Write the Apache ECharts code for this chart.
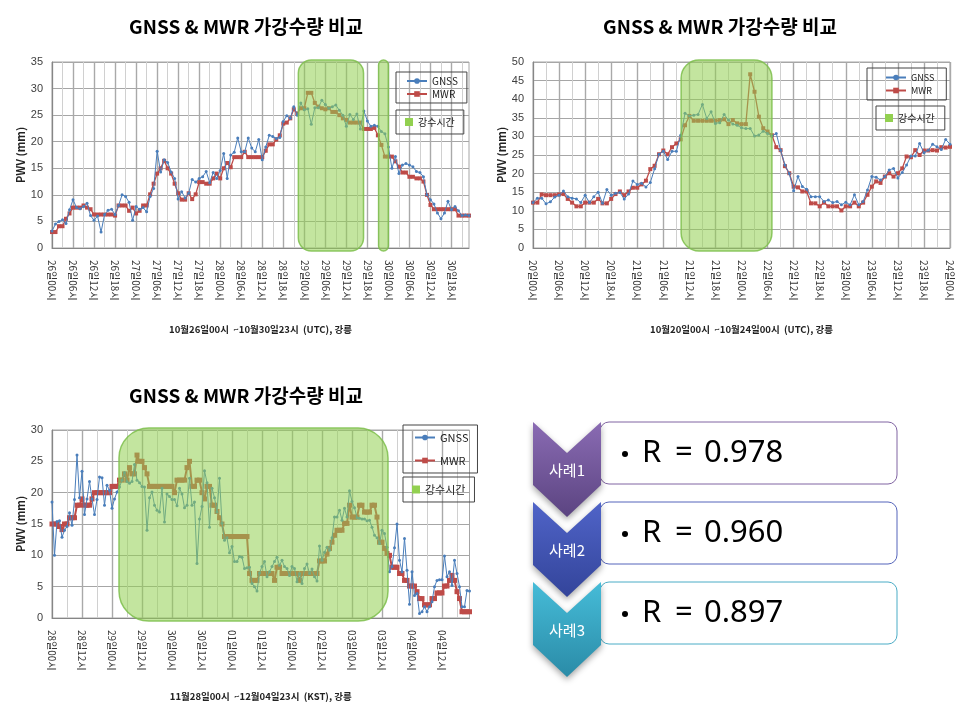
<!DOCTYPE html>
<html><head><meta charset="utf-8">
<script src="https://cdn.jsdelivr.net/npm/echarts@6/dist/echarts.min.js"></script>
<style>html,body{margin:0;padding:0;background:#fff}#c{width:960px;height:720px}</style>
</head><body><div id="c"></div>
<script>
// ---------- text ----------
const chartTitle = 'GNSS & MWR 가강수량 비교';
const yName = 'PWV (mm)';
const nameGNSS = 'GNSS', nameMWR = 'MWR', nameRain = '강수시간';
const xName1 = '10월26일00시  ~10월30일23시  (UTC), 강릉';
const xName2 = '10월20일00시  ~10월24일00시  (UTC), 강릉';
const xName3 = '11월28일00시  ~12월04일23시  (KST), 강릉';

// ---------- categories (hourly) ----------
const days1 = ['26', '27', '28', '29', '30'];
const days2 = ['20', '21', '22', '23', '24'];   // last day: 00시 only
const days3 = ['28', '29', '30', '01', '02', '03', '04'];
function makeCats(days, lastDayHours) {
  const out = [];
  days.forEach((d, i) => {
    const n = (i === days.length - 1 && lastDayHours != null) ? lastDayHours : 24;
    for (let h = 0; h < n; h++) out.push(d + '일' + String(h).padStart(2, '0') + '시');
  });
  return out;
}
const cats1 = makeCats(days1);
const cats2 = makeCats(days2, 1);
const cats3 = makeCats(days3);

// ---------- case 1 : 10/26 00 ~ 10/30 23 ----------
const gnss1 = [
  3.2, 4.5, 5.0, 5.3, 4.6, 7.2, 9.1, 7.6, 7.4, 7.8,
  8.4, 6.1, 5.2, 6.0, 3.0, 6.3, 7.1, 7.3, 6.3, 8.0,
  10.0, 9.7, 8.6, 5.2, 7.8, 7.3, 7.6, 6.8, 9.7, 11.2,
  18.2, 14.3, 16.6, 16.1, 14.3, 13.1, 9.2, 10.6, 9.4, 10.3,
  12.9, 12.4, 13.1, 13.4, 14.4, 12.3, 14.2, 13.1, 14.6, 17.8,
  13.1, 17.5, 18.0, 20.7, 18.1, 18.1, 20.7, 18.8, 18.1, 20.4,
  16.6, 19.0, 21.2, 21.0, 20.6, 20.8, 23.8, 24.9, 24.4, 26.6,
  25.0, 27.3, 26.0, 26.2, 23.3, 26.4, 26.4, 27.8, 27.0, 26.3,
  26.6, 26.9, 25.9, 25.0, 22.9, 25.1, 24.2, 25.2, 22.4, 25.8,
  23.9, 22.9, 23.1, 22.9, 21.9, 21.5, 19.0, 15.0, 17.2, 14.0,
  15.6, 15.9, 15.6, 15.3, 14.4, 14.2, 13.4, 10.0, 9.1, 8.3,
  6.6, 5.5, 6.6, 8.8, 7.2, 7.8, 7.0, 6.1, 6.2, 6.1
];
const mwr1 = [
  3.0, 3.0, 4.1, 4.1, 5.5, 6.5, 7.6, 7.6, 7.6, 8.0,
  7.6, 7.3, 6.3, 6.3, 6.3, 6.3, 6.3, 6.3, 6.1, 8.0,
  8.0, 8.0, 7.0, 7.6, 6.5, 7.0, 8.0, 8.0, 10.1, 12.1,
  14.0, 15.0, 16.4, 15.0, 14.0, 12.1, 10.3, 9.1, 9.1, 10.3,
  9.2, 10.1, 12.4, 12.4, 12.1, 12.1, 13.1, 14.0, 13.1, 15.0,
  16.0, 15.2, 17.1, 17.1, 17.1, 18.1, 17.1, 17.1, 17.1, 17.1,
  17.1, 18.3, 19.5, 19.5, 20.4, 21.2, 23.4, 23.6, 24.4, 26.1,
  25.3, 26.3, 26.3, 29.2, 29.2, 27.3, 26.6, 26.3, 26.1, 26.3,
  25.6, 25.6, 25.0, 24.4, 24.1, 23.6, 23.6, 23.6, 23.6, 22.4,
  22.4, 22.4, 22.6, 21.2, 19.4, 17.2, 17.2, 17.2, 16.3, 15.3,
  14.2, 14.2, 13.4, 13.4, 13.1, 13.1, 12.5, 10.0, 8.1, 7.3,
  7.3, 7.3, 7.3, 7.3, 7.3, 7.3, 6.1, 6.1, 6.1, 6.1
];
const rain1 = [[70.3, 88.9], [93.2, 96.0]];   // rain periods, in hours from start

// ---------- case 2 : 10/20 00 ~ 10/24 00 ----------
const gnss2 = [
  12.2, 13.4, 13.4, 11.9, 12.4, 13.7, 14.2, 15.3, 13.8, 13.4,
  13.2, 12.2, 14.2, 12.2, 13.8, 15.0, 12.0, 15.7, 14.2, 14.7,
  14.9, 13.2, 14.5, 18.0, 17.1, 17.4, 16.4, 17.6, 21.3, 25.2,
  26.0, 23.8, 26.0, 26.0, 30.3, 36.2, 35.5, 35.7, 35.9, 38.6,
  34.8, 36.6, 33.5, 33.7, 35.9, 34.4, 33.3, 33.0, 32.3, 32.1,
  32.1, 30.1, 30.4, 31.4, 30.8, 30.1, 30.8, 26.3, 22.3, 20.0,
  15.4, 19.2, 16.5, 15.8, 13.8, 13.8, 13.8, 12.5, 12.9, 12.2,
  12.5, 11.6, 12.3, 11.6, 14.3, 11.6, 12.5, 15.6, 19.2, 19.0,
  18.3, 19.2, 21.0, 21.4, 18.8, 20.3, 22.3, 24.7, 24.7, 28.1,
  25.6, 26.3, 27.9, 27.2, 26.5, 29.2, 27.9
];
const mwr2 = [
  12.2, 12.2, 14.4, 14.2, 14.2, 14.2, 14.4, 14.5, 13.2, 12.2,
  11.2, 11.2, 12.2, 12.2, 12.2, 13.2, 12.0, 12.0, 13.2, 14.5,
  15.2, 14.2, 15.2, 16.2, 16.2, 17.1, 18.1, 21.2, 22.1, 25.2,
  26.2, 25.2, 27.1, 28.1, 29.2, 33.0, 35.5, 34.2, 34.2, 34.2,
  34.2, 34.2, 34.2, 34.4, 34.6, 33.3, 34.4, 33.5, 33.3, 33.3,
  46.7, 42.0, 35.3, 32.2, 31.3, 30.3, 27.1, 26.3, 22.0, 20.1,
  16.5, 16.3, 15.2, 15.2, 12.0, 12.0, 11.2, 12.2, 11.2, 11.2,
  11.2, 10.1, 11.2, 11.2, 12.2, 11.2, 12.2, 14.3, 16.5, 17.9,
  17.5, 19.2, 20.1, 19.2, 20.1, 21.4, 24.6, 24.4, 26.3, 25.0,
  26.2, 26.2, 26.3, 26.2, 27.1, 27.0, 27.2
];
const rain2 = [[34.1, 55.0]];

// ---------- case 3 : 11/28 00 ~ 12/04 23 ----------
const gnss3 = [
  18.5, 10.0, 15.4, 15.5, 12.9, 14.0, 14.6, 16.8, 14.8, 18.9,
  26.0, 19.2, 23.4, 16.5, 19.0, 21.8, 19.0, 16.5, 18.9, 22.5,
  22.4, 18.0, 21.2, 20.4, 17.5, 19.0, 20.1, 20.9, 22.0, 23.2,
  21.8, 21.5, 21.8, 24.5, 22.0, 21.6, 21.0, 20.9, 14.0, 19.2,
  20.1, 18.0, 17.2, 16.9, 20.7, 15.3, 19.8, 19.4, 18.9, 18.9,
  17.9, 20.7, 19.8, 17.6, 18.0, 22.3, 18.0, 18.5, 8.7, 15.8,
  17.8, 23.5, 21.6, 14.5, 20.7, 19.2, 16.9, 22.3, 15.1, 12.4,
  12.8, 10.4, 11.4, 9.0, 9.0, 9.8, 9.7, 7.9, 8.0, 8.1,
  5.5, 5.0, 4.3, 7.2, 8.2, 9.0, 6.6, 7.4, 8.2, 9.0,
  9.7, 8.4, 9.2, 8.2, 7.9, 6.8, 8.2, 7.9, 5.8, 7.1,
  5.5, 7.9, 8.6, 7.1, 7.8, 6.6, 5.9, 11.5, 9.2, 10.5,
  11.3, 10.8, 12.8, 16.1, 16.1, 17.2, 15.6, 17.5, 16.1, 20.3,
  18.6, 17.6, 16.0, 15.9, 15.8, 15.8, 15.5, 15.6, 14.5, 13.2,
  12.8, 11.9, 14.0, 13.5, 11.3, 7.4, 8.2, 11.2, 15.0, 9.2,
  7.4, 12.7, 7.6, 2.2, 7.4, 3.6, 3.9, 0.7, 1.0, 1.8,
  1.0, 1.8, 2.6, 5.0, 6.0, 6.1, 6.1, 9.9, 6.6, 7.4,
  5.2, 9.2, 7.1, 5.0, 1.8, 1.8, 4.4, 4.3
];
const mwr3 = [
  15, 15, 15, 14.6, 14.1, 15, 15, 16, 16, 16,
  18, 18, 19, 18, 18, 18, 19, 20, 20, 20,
  20, 20, 20, 20, 21, 21, 21, 22, 22, 23,
  22, 24, 23, 23, 26, 25, 25, 24, 23, 21,
  21, 21, 21, 21, 21, 21, 21, 21, 21, 20,
  22, 22, 22, 22, 24, 25, 21, 21, 22, 22,
  20, 19, 21, 21, 18, 18, 17, 16, 15, 13,
  13, 13, 13, 13, 13, 13, 13, 13, 13, 7.1,
  6, 6, 6, 7.1, 7.1, 7.1, 7.1, 7.1, 7.1, 6,
  8.1, 8.1, 7.1, 7.1, 7.1, 7.1, 7.1, 7.1, 7.1, 6,
  7.1, 7.1, 7.1, 7.1, 7.1, 7.1, 7.1, 9.1, 9.1, 9.1,
  10.2, 11.1, 12.1, 13.2, 14, 14, 14, 15.1, 15.1, 18,
  16.1, 16.1, 16.1, 18, 18, 16.9, 16.9, 16.9, 18, 18,
  16.1, 12.1, 12.1, 11.1, 10.3, 10, 8.1, 8.1, 8.1, 7.1,
  7.1, 6, 6, 5.1, 5.1, 5.1, 4.2, 3.1, 3.1, 2.1,
  2.1, 2.1, 3.1, 3.1, 4, 4, 4, 5.1, 5.1, 6,
  6.8, 6, 4.2, 3.1, 1, 1, 1, 1
];
const rain3 = [[26.8, 134.4]];

// ---------- correlation panel ----------
const caseLabels = ['사례1', '사례2', '사례3'];
const rValues = [0.978, 0.960, 0.897];

// ================= build =================
const FONT = "'Noto Sans CJK KR', 'Noto Sans', sans-serif";
const cfg = [
  { cats: cats1, gnss: gnss1, mwr: mwr1, rain: rain1, xName: xName1, yMax: 35,
    grid: { left: 52, top: 62, width: 417, height: 186 }, lbl: 5, thin: 2, thick: 5, radius: 13,
    title: { left: 246, top: 17 }, nameGap: 77, mwrW: 1.3, mwrS: 4 },
  { cats: cats2, gnss: gnss2, mwr: mwr2, rain: rain2, xName: xName2, yMax: 50,
    grid: { left: 533, top: 62, width: 417, height: 186 }, lbl: 5, thin: 2, thick: 5, radius: 18,
    title: { left: 720, top: 17 }, nameGap: 77, mwrW: 1.3, mwrS: 4 },
  { cats: cats3, gnss: gnss3, mwr: mwr3, rain: rain3, xName: xName3, yMax: 30,
    grid: { left: 52, top: 430, width: 417.5, height: 188 }, lbl: 11, thin: 5, thick: 11, radius: 30,
    title: { left: 246, top: 386 }, nameGap: 74, mwrW: 2, mwrS: 5 }
];

const grid = [], xAxis = [], yAxis = [], series = [], title = [];
cfg.forEach((c, i) => {
  grid.push(Object.assign({ show: true, borderColor: '#a6a6a6', borderWidth: 1, containLabel: false }, c.grid));
  title.push({ text: chartTitle, left: c.title.left, top: c.title.top, textAlign: 'center', padding: 0,
    textStyle: { fontSize: 19, fontWeight: 'bold', color: '#000', fontFamily: FONT } });
  xAxis.push({
    gridIndex: i, type: 'category', data: c.cats, boundaryGap: false,
    axisLine: { lineStyle: { color: '#868686' } }, axisTick: { show: false },
    axisLabel: { interval: c.lbl, rotate: -90, fontSize: 10, color: '#333', margin: 12, fontFamily: FONT },
    splitLine: { show: true, interval: c.thin, lineStyle: { color: '#d0d0d0', width: 1 } },
    name: c.xName, nameLocation: 'middle', nameGap: c.nameGap,
    nameTextStyle: { fontWeight: 'bold', fontSize: 9.5, color: '#222', fontFamily: FONT }
  });
  xAxis.push({
    gridIndex: i, type: 'category', data: c.cats, boundaryGap: false, position: 'bottom',
    axisLine: { show: false }, axisTick: { show: false }, axisLabel: { show: false },
    splitLine: { show: true, interval: c.thick, lineStyle: { color: '#a9a9a9', width: 1.4 } }
  });
  yAxis.push({
    gridIndex: i, type: 'value', min: 0, max: c.yMax, interval: 5,
    axisLine: { show: true, lineStyle: { color: '#868686' } }, axisTick: { show: false },
    axisLabel: { fontSize: 11, color: '#404040', margin: 9, fontFamily: "'Liberation Sans', sans-serif" },
    splitLine: { lineStyle: { color: '#a6a6a6', width: 1 } },
    name: yName, nameLocation: 'middle', nameRotate: 90, nameGap: 26,
    nameTextStyle: { fontWeight: 'bold', fontSize: 11, color: '#222', fontFamily: FONT }
  });
  series.push({
    type: 'line', name: nameGNSS, data: c.gnss, xAxisIndex: i * 2, yAxisIndex: i,
    symbol: 'circle', symbolSize: 3, showAllSymbol: true,
    lineStyle: { color: '#4a7ebb', width: 1 }, itemStyle: { color: '#4a7ebb' }, z: 3
  });
  series.push({
    type: 'line', name: nameMWR, data: c.mwr, xAxisIndex: i * 2, yAxisIndex: i,
    symbol: 'rect', symbolSize: c.mwrS, showAllSymbol: true,
    lineStyle: { color: '#be4b48', width: c.mwrW }, itemStyle: { color: '#be4b48' }, z: 2
  });
  const bands = c.rain, yTop = c.yMax, R = c.radius;
  series.push({
    type: 'custom', name: nameRain, xAxisIndex: i * 2, yAxisIndex: i, z: 6,
    itemStyle: { color: '#92d050' },
    data: bands.map((b, k) => [k]),
    renderItem: function (params, api) {
      const b = bands[params.dataIndex];
      const px = v => {
        const f = Math.floor(v);
        const a = api.coord([f, 0])[0], n = api.coord([f + 1, 0])[0];
        return a + (n - a) * (v - f);
      };
      const x0 = px(b[0]), x1 = px(b[1]);
      const yt = api.coord([0, yTop])[1] - 2, yb = api.coord([0, 0])[1] + 3;
      return {
        type: 'rect',
        shape: { x: x0, y: yt, width: x1 - x0, height: yb - yt, r: Math.min(R, (x1 - x0) / 2) },
        style: { fill: 'rgba(146,208,80,0.55)', stroke: 'rgba(125,190,75,0.85)', lineWidth: 1.5 }
      };
    }
  });
});

const legendBase = { orient: 'vertical', borderColor: '#444', borderWidth: 1, selectedMode: false,
  textStyle: { fontSize: 10, color: '#222', fontFamily: FONT } };
const lineLegend = (left, top, pad, gap, fs) => Object.assign({}, legendBase, {
  left, top, padding: pad, itemGap: gap, itemWidth: 20, itemHeight: 7,
  data: [nameGNSS, nameMWR], textStyle: Object.assign({}, legendBase.textStyle, { fontSize: fs })
});
const rainLegend = (left, top, pad, fs) => Object.assign({}, legendBase, {
  left, top, padding: pad, itemWidth: 8, itemHeight: 8,
  data: [{ name: nameRain, icon: 'rect' }], textStyle: Object.assign({}, legendBase.textStyle, { fontSize: fs })
});
const legend = [
  lineLegend(396, 72, [4, 9, 4, 10], 3, 10),
  rainLegend(396, 110, [7, 9, 7, 9], 10),
  lineLegend(867, 68, [5, 12, 5, 18], 4, 9),
  rainLegend(876, 106, [7, 10, 7, 9], 10),
  lineLegend(403, 425, [7, 9, 7, 11], 12, 11),
  rainLegend(403, 477, [7, 9, 7, 9], 11)
];

// correlation panel graphics
const panelColors = [
  { top: '#8a6bb3', bottom: '#5b4481', border: '#8064a2' },
  { top: '#5064c8', bottom: '#33449a', border: '#5565bb' },
  { top: '#46bcd8', bottom: '#2a8ba7', border: '#4bacc6' }
];
const txt = (text, x, y, size, fill, family, align) => ({ type: 'text', style: {
  text, x, y, align: align || 'left', verticalAlign: 'middle', textAlign: align || 'left', textVerticalAlign: 'middle',
  fill, fontSize: size, fontFamily: family } });
const graphic = [];
caseLabels.forEach((lab, i) => {
  const y0 = 422 + i * 80, pc = panelColors[i];
  graphic.push({ type: 'rect', shape: { x: 600, y: y0, width: 297, height: 62, r: 9 },
    style: { fill: '#fff', stroke: pc.border, lineWidth: 1 } });
  graphic.push({ type: 'polygon',
    shape: { points: [[533, y0], [567, y0 + 31], [601, y0], [601, y0 + 63], [567, y0 + 95], [533, y0 + 63]] },
    style: { fill: new echarts.graphic.LinearGradient(0, 0, 0, 1, [{ offset: 0, color: pc.top }, { offset: 1, color: pc.bottom }]),
      shadowBlur: 6, shadowColor: 'rgba(0,0,0,0.35)', shadowOffsetY: 3 } });
  graphic.push(txt(lab, 567, y0 + 48, 15, '#fff', FONT, 'center'));
  graphic.push({ type: 'circle', shape: { cx: 625, cy: y0 + 32, r: 3 }, style: { fill: '#000' } });
  graphic.push(txt('R', 642, y0 + 31, 31, '#000', "'Noto Sans', sans-serif"));
  graphic.push(txt('=', 675, y0 + 31, 31, '#000', "'Noto Sans', sans-serif"));
  graphic.push(txt(rValues[i].toFixed(3), 704, y0 + 31, 31, '#000', "'Noto Sans', sans-serif"));
});

const chart = echarts.init(document.getElementById('c'));
chart.setOption({
  animation: false,
  backgroundColor: '#fff',
  textStyle: { fontFamily: FONT },
  title, grid, xAxis, yAxis, series, legend, graphic
});
</script></body></html>
